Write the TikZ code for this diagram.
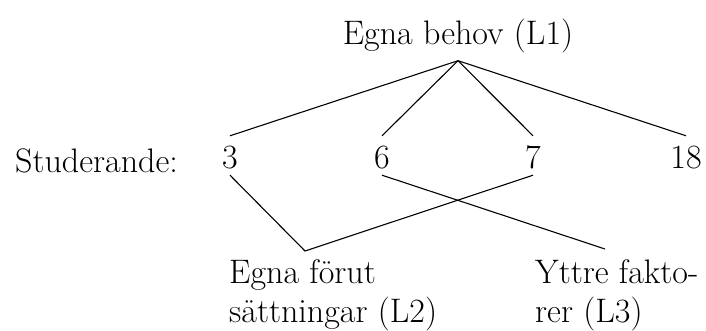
\documentclass[tikz,border=0pt]{standalone}
\usepackage{fontspec}
\begin{document}
\begin{tikzpicture}[x=1pt,y=-1pt,
  lbl/.style={font=\fontsize{34}{40}\selectfont, inner sep=0pt},
  num/.style={font=\fontsize{34}{40}\selectfont, anchor=base, inner xsep=0pt, inner ysep=6pt, text height=27pt, text depth=0pt},
  conn/.style={line width=1.1pt, line join=miter}]
\useasboundingbox (0,0) rectangle (706,331);
\node[lbl, anchor=base, inner ysep=7pt] (top) at (458,45) {Egna behov (L1)};
\node[lbl, anchor=base west] (stud) at (15,172) {Studerande:};
\node[num] (n3) at (230,169) {3};
\node[num] (n6) at (382,169) {6};
\node[num] (n7) at (533,169) {7};
\node[num] (n18) at (686,169) {18};
\node[lbl, anchor=base west] (l2a) at (229,283) {Egna förut};
\node[lbl, anchor=base west] (l2b) at (229,322) {sättningar (L2)};
\node[lbl, anchor=base west] (l3a) at (535,283) {Yttre fakto-};
\node[lbl, anchor=base west] (l3b) at (535,322) {rer (L3)};
\coordinate (j2) at (305,251);
\coordinate (j3) at (605,249);
\draw[conn] (top.south) -- (n3.north);
\draw[conn] (top.south) -- (n6.north);
\draw[conn] (top.south) -- (n7.north);
\draw[conn] (top.south) -- (n18.north);
\draw[conn] (n3.south) -- (j2) -- (n7.south);
\draw[conn] (n6.south) -- (j3);
\end{tikzpicture}
\end{document}
